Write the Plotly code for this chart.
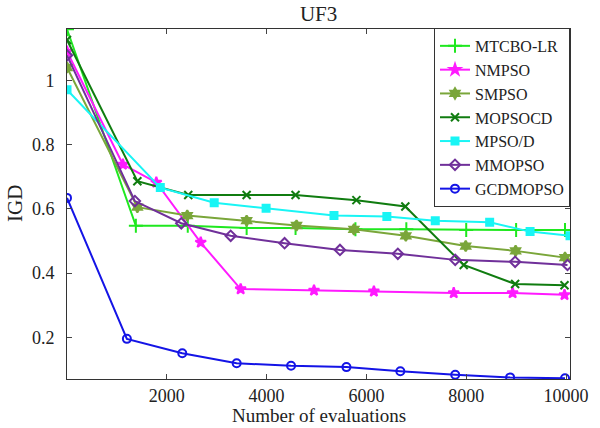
import plotly.graph_objects as go

# ---- data ----
mtcbo_x = [0, 1380, 2420, 3600, 4580, 5780, 6800, 8000, 9000, 9980]
mtcbo_y = [1.159, 0.547, 0.547, 0.540, 0.540, 0.536, 0.536, 0.534, 0.534, 0.534]

nmpso_x = [0, 1120, 1790, 2680, 3480, 4950, 6150, 7750, 8930, 9970]
nmpso_y = [1.090, 0.738, 0.682, 0.495, 0.350, 0.346, 0.343, 0.338, 0.338, 0.332]

smpso_x = [0, 1410, 2410, 3600, 4600, 5750, 6790, 7990, 8990, 9980]
smpso_y = [1.040, 0.605, 0.579, 0.563, 0.548, 0.536, 0.516, 0.484, 0.469, 0.448]

mopsocd_x = [0, 1410, 2430, 3600, 4580, 5800, 6780, 7950, 8980, 9970]
mopsocd_y = [1.126, 0.686, 0.643, 0.643, 0.643, 0.627, 0.607, 0.425, 0.366, 0.362]

mpsod_x = [0, 1870, 2950, 3990, 5350, 6410, 7380, 8470, 9280, 10080]
mpsod_y = [0.971, 0.666, 0.619, 0.602, 0.579, 0.576, 0.563, 0.558, 0.529, 0.516]

mmopso_x = [0, 1360, 2290, 3280, 4360, 5470, 6630, 7780, 8980, 10030]
mmopso_y = [1.078, 0.624, 0.555, 0.516, 0.493, 0.472, 0.460, 0.441, 0.435, 0.425]

gcd_x = [0, 1200, 2310, 3400, 4490, 5600, 6680, 7780, 8880, 9980]
gcd_y = [0.634, 0.195, 0.150, 0.119, 0.111, 0.107, 0.094, 0.083, 0.075, 0.072]

x_ticks = [2000, 4000, 6000, 8000, 10000]
x_tick_text = ["2000", "4000", "6000", "8000", "10000"]
y_ticks = [0.2, 0.4, 0.6, 0.8, 1.0]
y_tick_text = ["0.2", "0.4", "0.6", "0.8", "1"]

series = [
    ("MTCBO-LR", mtcbo_x, mtcbo_y, "#1fe81f", "cross-thin", 10),
    ("NMPSO", nmpso_x, nmpso_y, "#ff1aff", "star", 8),
    ("SMPSO", smpso_x, smpso_y, "#7aa63a", "hexagram", 8),
    ("MOPSOCD", mopsocd_x, mopsocd_y, "#107c10", "x-thin", 8),
    ("MPSO/D", mpsod_x, mpsod_y, "#19f5f5", "square", 7),
    ("MMOPSO", mmopso_x, mmopso_y, "#70309a", "diamond-open", 8),
    ("GCDMOPSO", gcd_x, gcd_y, "#1414e6", "circle-open", 8),
]

FONT = "Liberation Serif, Times New Roman, serif"
TXT = "#222"

fig = go.Figure()
for name, xs, ys, col, sym, sz in series:
    fig.add_trace(go.Scatter(
        x=xs, y=ys, name=name, mode="lines+markers",
        line=dict(color=col, width=2),
        marker=dict(symbol=sym, size=sz, color=col,
                    line=dict(color=col, width=2)),
    ))

fig.update_layout(
    width=600, height=428,
    margin=dict(l=67, r=30, t=29, b=49),
    paper_bgcolor="white", plot_bgcolor="white",
    font=dict(family=FONT, size=19, color=TXT),
    title=dict(text="UF3", x=0.531, xanchor="center", y=1 - 14 / 428,
               yanchor="middle", yref="container",
               font=dict(family=FONT, size=21, color=TXT)),
    showlegend=True,
    legend=dict(x=1, xanchor="right", y=1.003, yanchor="top",
                bgcolor="white", bordercolor="#333", borderwidth=1,
                font=dict(family=FONT, size=16, color=TXT),
                tracegroupgap=0, itemwidth=30),
    annotations=[
        dict(text="Number of evaluations", xref="paper", yref="paper",
             x=0.5, y=(379 - 428) / 350, xanchor="center", yanchor="bottom",
             showarrow=False, font=dict(family=FONT, size=19, color=TXT)),
        dict(text="IGD", xref="paper", yref="paper",
             x=(15 - 67) / 503, y=0.5, xanchor="center", yanchor="middle",
             textangle=-90, showarrow=False,
             font=dict(family=FONT, size=21, color=TXT)),
    ],
)

fig.update_xaxes(
    range=[0, 10080], tickvals=x_ticks, ticktext=x_tick_text,
    ticks="inside", ticklen=5, automargin=False,
    tickfont=dict(family=FONT, size=18, color=TXT),
    showline=True, linecolor="#333", linewidth=1, mirror="ticks",
    showgrid=False, zeroline=False,
)
fig.update_yaxes(
    range=[0.07, 1.16], tickvals=y_ticks, ticktext=y_tick_text,
    ticks="inside", ticklen=5, automargin=False,
    tickfont=dict(family=FONT, size=18, color=TXT),
    showline=True, linecolor="#333", linewidth=1, mirror="ticks",
    showgrid=False, zeroline=False, ticklabelstandoff=8,
)

fig.write_html("out.html", config={"displayModeBar": False},
               post_script="document.body.style.margin='0';")
